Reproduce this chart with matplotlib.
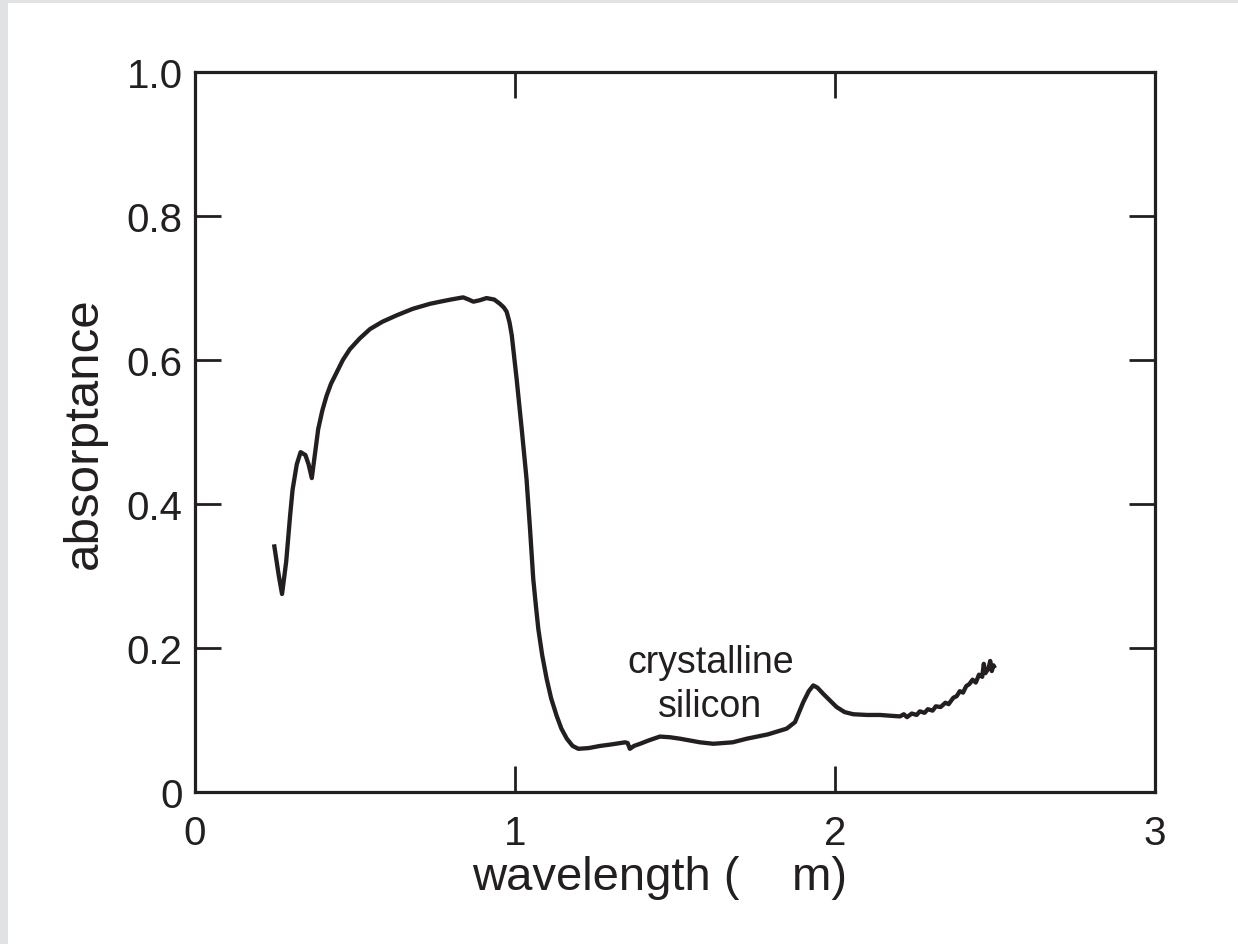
import matplotlib
matplotlib.use("Agg")
import matplotlib.pyplot as plt
from matplotlib.patches import Rectangle

# wavelength (um) and absorptance
wavelength = [0.247, 0.262, 0.272, 0.285, 0.297, 0.305, 0.318, 0.330, 0.345, 0.355, 0.365,
              0.375, 0.385, 0.398, 0.411, 0.425, 0.443, 0.462, 0.484, 0.515, 0.547, 0.585,
              0.630, 0.680, 0.734, 0.766, 0.800,
              0.838, 0.855, 0.870, 0.890, 0.911, 0.935, 0.953, 0.965, 0.974, 0.983, 0.990,
              1.005, 1.021, 1.036, 1.047, 1.057, 1.065, 1.073, 1.085, 1.099, 1.113, 1.130,
              1.145, 1.162, 1.180, 1.198, 1.230, 1.266, 1.300,
              1.344, 1.352, 1.359, 1.372, 1.391, 1.420, 1.453, 1.485, 1.516, 1.578, 1.620,
              1.680, 1.724, 1.790, 1.849, 1.875, 1.901, 1.918, 1.932, 1.945, 1.964, 2.005,
              2.030, 2.057, 2.100, 2.141, 2.170, 2.203, 2.215, 2.225, 2.240, 2.255, 2.265,
              2.280, 2.290, 2.305, 2.315, 2.330, 2.345, 2.355, 2.370, 2.380, 2.390, 2.400,
              2.410, 2.420, 2.430, 2.440, 2.450, 2.460, 2.465, 2.470, 2.480, 2.485, 2.490,
              2.495, 2.500]
absorptance = [0.344, 0.300, 0.275, 0.320, 0.383, 0.420, 0.455, 0.472, 0.468, 0.455, 0.436,
               0.470, 0.504, 0.530, 0.550, 0.567, 0.583, 0.600, 0.615, 0.630, 0.643, 0.653,
               0.662, 0.671, 0.678, 0.681, 0.684,
               0.687, 0.684, 0.681, 0.683, 0.686, 0.684, 0.678, 0.673, 0.667, 0.652, 0.634,
               0.574, 0.504, 0.435, 0.365, 0.296, 0.260, 0.226, 0.190, 0.157, 0.130, 0.106,
               0.088, 0.074, 0.064, 0.060, 0.061, 0.064, 0.066,
               0.069, 0.068, 0.060, 0.064, 0.067, 0.072, 0.077, 0.076, 0.074, 0.069, 0.067,
               0.069, 0.074, 0.080, 0.088, 0.097, 0.125, 0.140, 0.148, 0.145, 0.136, 0.118,
               0.111, 0.108, 0.107, 0.107, 0.106, 0.105, 0.108, 0.104, 0.109, 0.107, 0.112,
               0.110, 0.115, 0.113, 0.119, 0.118, 0.124, 0.122, 0.131, 0.133, 0.140, 0.138,
               0.147, 0.150, 0.156, 0.152, 0.163, 0.160, 0.178, 0.165, 0.172, 0.182, 0.168,
               0.176, 0.172]

xticks = [0, 1, 2, 3]
xticklabels = ["0", "1", "2", "3"]
yticks = [0, 0.2, 0.4, 0.6, 0.8, 1.0]
yticklabels = ["0", "0.2", "0.4", "0.6", "0.8", "1.0"]
annotation = "crystalline\nsilicon"

ink = "#231f20"
plt.rcParams["font.family"] = ["Liberation Sans", "DejaVu Sans"]

fig = plt.figure(figsize=(12.38, 9.45), dpi=100)
fig.patch.set_facecolor("white")
fig.patches.append(Rectangle((0, 0), 8 / 1238, 1, transform=fig.transFigure,
                             facecolor="#e1e2e4", edgecolor="none", zorder=0))
fig.patches.append(Rectangle((0, 1 - 4 / 945), 1, 4 / 945, transform=fig.transFigure,
                             facecolor="#e1e2e4", edgecolor="none", zorder=0))

ax = fig.add_axes([195 / 1238, 1 - 793 / 945, 960 / 1238, 720 / 945])
ax.plot(wavelength, absorptance, color=ink, lw=3.1, solid_joinstyle="round",
        solid_capstyle="butt")
ax.set_xlim(0, 3)
ax.set_ylim(0, 1)
ax.set_xticks(xticks)
ax.set_xticklabels(xticklabels)
ax.set_yticks(yticks)
ax.set_yticklabels(yticklabels)
for s in ax.spines.values():
    s.set_linewidth(2.3)
    s.set_color(ink)
ax.tick_params(direction="in", length=19, width=2.0, color=ink, labelcolor=ink,
               labelsize=29, top=True, right=True)
ax.tick_params(axis="x", pad=16)
ax.tick_params(axis="y", pad=9)
ax.set_xlabel("wavelength (    m)", fontsize=34, color=ink)
ax.set_ylabel("absorptance", fontsize=35.5, color=ink, labelpad=14)
ax.xaxis.set_label_coords(0.484, -0.087, transform=ax.transAxes)
ax.text(1.61, 0.150, annotation, ha="center", va="center", fontsize=27,
        color=ink, multialignment="center", linespacing=1.3)

fig.savefig("out.png", dpi=100)
